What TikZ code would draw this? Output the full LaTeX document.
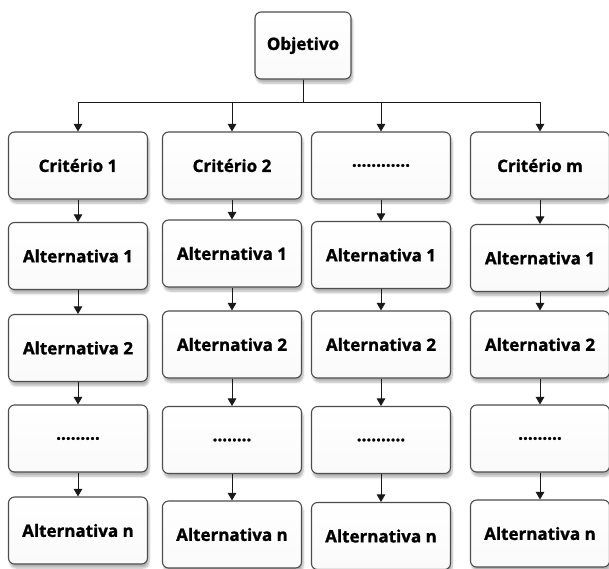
\documentclass[tikz,border=0pt]{standalone}
\usepackage{fontspec}
\setmainfont{Open Sans}[BoldFeatures={FakeBold=1.2}]
\usepackage{tikz}
\usetikzlibrary{arrows.meta,shadows.blur}

\begin{document}
\begin{tikzpicture}[x=1pt,y=-1pt,
  box/.style={draw=black!70, line width=1.1pt, rounded corners=6pt,
    top color=white, bottom color=black!2,
    minimum width=139pt, minimum height=67pt, inner sep=0pt,
    font=\bfseries\fontsize{17}{20}\selectfont,
    blur shadow={shadow xshift=1.5pt, shadow yshift=-4pt, shadow blur steps=6, shadow opacity=30}},
  arr/.style={-{Triangle[width=8.5pt,length=7.5pt]}, line width=0.8pt, black!90}]

\useasboundingbox (0,0) rectangle (609,568);

% Goal
\node[box, minimum width=96pt] (obj) at (303,45.5) {Objetivo};
\coordinate (bus) at (303,102.5);


% First column
\node[box] (c1) at (78,165.5) {Critério 1};
\node[box] (a1) at (78,256) {Alternativa 1};
\node[box] (b1) at (78,348) {Alternativa 2};
\node[box] (d1) at (78,438.5) {.........};
\node[box] (n1) at (78,530.5) {Alternativa n};

\draw[arr] (obj.south) -- (bus) -| (c1.north);
\draw[arr] (c1)--(a1);
\draw[arr] (a1)--(b1);
\draw[arr] (b1)--(d1);
\draw[arr] (d1)--(n1);


% Second column
\node[box] (c2) at (232,165.5) {Critério 2};
\node[box] (a2) at (232,253.5) {Alternativa 1};
\node[box] (b2) at (232,344.5) {Alternativa 2};
\node[box] (d2) at (232,440) {........};
\node[box] (n2) at (232,534.5) {Alternativa n};

\draw[arr] (obj.south) -- (bus) -| (c2.north);
\draw[arr] (c2)--(a2);
\draw[arr] (a2)--(b2);
\draw[arr] (b2)--(d2);
\draw[arr] (d2)--(n2);


% Third column
\node[box] (c3) at (381,165.5) {............};
\node[box] (a3) at (381,255) {Alternativa 1};
\node[box] (b3) at (381,344.5) {Alternativa 2};
\node[box] (d3) at (381,440) {..........};
\node[box] (n3) at (381,536) {Alternativa n};

\draw[arr] (obj.south) -- (bus) -| (c3.north);
\draw[arr] (c3)--(a3);
\draw[arr] (a3)--(b3);
\draw[arr] (b3)--(d3);
\draw[arr] (d3)--(n3);


% Last column
\node[box] (c4) at (540,165.5) {Critério m};
\node[box] (a4) at (540,258) {Alternativa 1};
\node[box] (b4) at (540,344.5) {Alternativa 2};
\node[box] (d4) at (540,438.5) {.........};
\node[box] (n4) at (540,533.5) {Alternativa n};

\draw[arr] (obj.south) -- (bus) -| (c4.north);
\draw[arr] (c4)--(a4);
\draw[arr] (a4)--(b4);
\draw[arr] (b4)--(d4);
\draw[arr] (d4)--(n4);

\end{tikzpicture}
\end{document}
